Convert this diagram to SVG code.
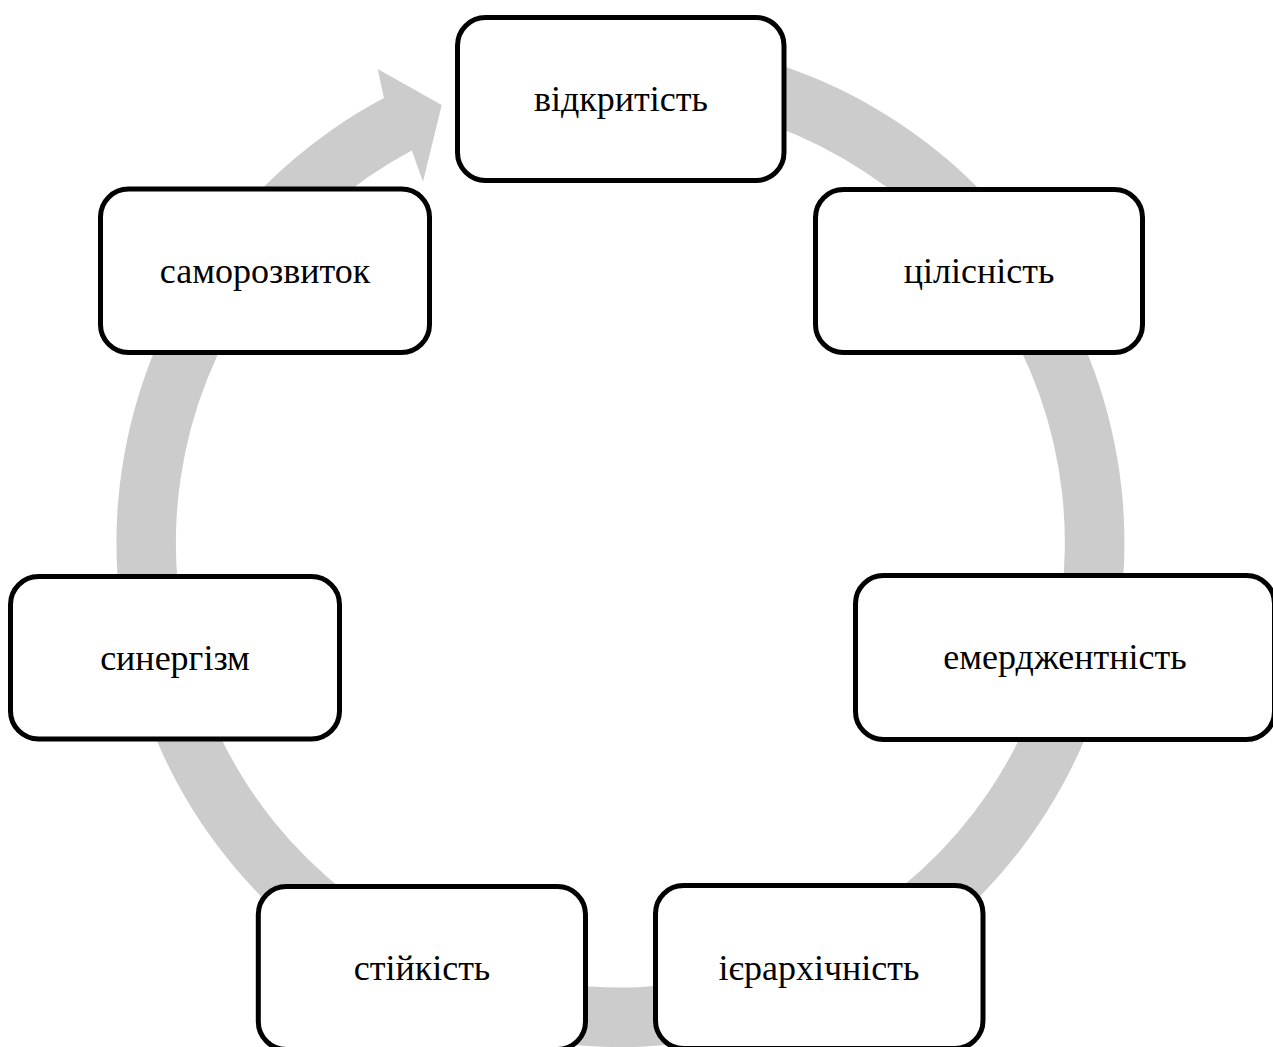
<svg xmlns="http://www.w3.org/2000/svg" width="1273" height="1047" viewBox="0 0 1273 1047">
<style>
.box{fill:#fff;stroke:#000;stroke-width:5}
.lbl{font-family:"Liberation Serif","Times New Roman",serif;font-size:36px;fill:#000;text-anchor:middle}
.ring{fill:#cccccc;stroke:none}
</style>
<rect width="1273" height="1047" fill="#fff"/>
<g id="connectors">
<path class="ring" d="M 708.0 46.7 A 504 504 0 1 1 383.9 98.0 L 377.7 69 L 441.7 105 L 423 181.7 L 411.8 150.5 A 444.5 444.5 0 1 0 697.7 105.3 Z"/>
</g>
<g id="node-vidkrytist">
<rect class="box" x="457.5" y="17.5" width="326.5" height="163" rx="28"/>
<text class="lbl" x="621" y="111">відкритість</text>
</g>
<g id="node-tsilisnist">
<rect class="box" x="815.5" y="189.5" width="327" height="163" rx="28"/>
<text class="lbl" x="979" y="283">цілісність</text>
</g>
<g id="node-emerdzhentnist">
<rect class="box" x="855.5" y="575.5" width="419" height="164" rx="28"/>
<text class="lbl" x="1065" y="669">емерджентність</text>
</g>
<g id="node-iierarkhichnist">
<rect class="box" x="655.5" y="885.5" width="327.5" height="163" rx="28"/>
<text class="lbl" x="819" y="980">ієрархічність</text>
</g>
<g id="node-stiikist">
<rect class="box" x="258.3" y="886.5" width="327.2" height="163" rx="28"/>
<text class="lbl" x="422" y="980">стійкість</text>
</g>
<g id="node-synerhizm">
<rect class="box" x="10.5" y="576.5" width="329" height="162.5" rx="28"/>
<text class="lbl" x="175" y="670">синергізм</text>
</g>
<g id="node-samorozvytok">
<rect class="box" x="100.5" y="189" width="329" height="163.5" rx="28"/>
<text class="lbl" x="265" y="283">саморозвиток</text>
</g>
</svg>
